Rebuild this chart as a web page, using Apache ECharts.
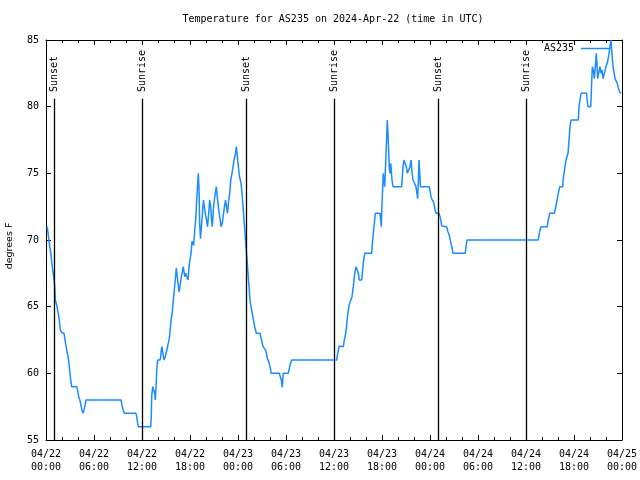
<!DOCTYPE html>
<html><head><meta charset="utf-8">
<script src="https://cdn.jsdelivr.net/npm/echarts@6/dist/echarts.min.js"></script>
<style>html,body{margin:0;padding:0;background:#fff}#c{width:640px;height:480px}</style>
</head><body><div id="c"></div>
<script>
// hours since 2024-04-22 00:00 UTC, temperature in degrees F
const day1Readings = [[0.13,71.0],[0.21,70.75],[0.41,69.75],[0.59,69.05],[0.71,68.4],[0.84,67.75],[0.96,67.25],[1.09,66.5],[1.16,65.5],[1.34,65.1],[1.54,64.5],[1.66,64.0],[1.79,63.25],[1.96,63.05],[2.25,63.0],[2.41,62.4],[2.59,61.75],[2.79,61.15],[2.91,60.5],[3.09,59.5],[3.21,59.0],[3.84,59.0],[3.96,58.7],[4.09,58.25],[4.25,57.95],[4.38,57.6],[4.5,57.2],[4.63,57.0],[4.75,57.25],[4.88,57.6],[5.0,58.0],[9.38,58.0],[9.5,57.6],[9.66,57.25],[9.79,57.0],[11.25,57.0],[11.34,56.75],[11.46,56.25],[11.54,56.0],[13.09,56.0],[13.16,56.75],[13.21,58.25],[13.34,59.0],[13.5,59.0],[13.59,58.5],[13.66,58.0],[13.75,58.9],[13.84,60.25],[13.96,61.0],[14.25,61.0],[14.34,61.25],[14.41,61.75],[14.5,62.0],[14.59,61.6],[14.75,61.0],[14.91,61.25],[15.0,61.5],[15.16,61.9],[15.29,62.05],[15.41,62.6],[15.54,63.4],[15.66,64.1],[15.79,64.6],[15.91,65.5],[16.04,66.25],[16.16,67.0],[16.29,67.9],[16.41,68.0],[16.63,66.1],[16.75,66.5],[16.91,67.25],[17.04,67.6],[17.16,68.0],[17.34,67.25],[17.46,67.5],[17.59,67.25],[17.75,67.0],[17.88,68.0],[18.0,68.5],[18.13,69.0],[18.25,69.9],[18.38,70.0],[18.46,69.6],[18.59,70.75],[18.71,71.5],[18.84,73.0],[18.96,74.25],[19.04,75.0],[19.13,73.75],[19.21,71.25],[19.31,70.1],[19.44,70.1],[19.59,72.25],[19.69,73.0],[19.79,72.5],[19.91,72.0],[20.06,71.5],[20.19,71.0],[20.34,72.0],[20.46,73.0],[20.59,72.5],[20.69,71.5],[20.79,71.0],[20.91,72.25],[21.04,73.0],[21.16,73.5],[21.29,74.0],[21.41,73.25],[21.59,72.25],[21.71,71.75],[21.88,71.0],[22.04,71.25],[22.19,72.0],[22.31,72.5],[22.44,73.0],[22.56,72.5],[22.69,72.0],[22.84,73.0],[22.96,73.5],[23.09,74.5],[23.25,75.0],[23.38,75.5],[23.5,76.0],[23.69,76.5],[23.79,77.0],[23.88,76.5],[24.0,75.75]];
const day2Readings = [[24.19,74.75],[24.38,74.25],[24.5,73.5],[24.63,72.5],[24.75,71.5],[24.88,70.5],[25.0,69.5],[25.13,68.5],[25.25,67.5],[25.38,66.5],[25.5,65.5],[25.63,65.0],[25.75,64.6],[25.88,64.2],[26.0,63.75],[26.13,63.4],[26.29,63.0],[26.75,63.0],[26.94,62.5],[27.13,62.0],[27.38,62.0],[27.5,61.7],[27.66,61.1],[27.84,60.9],[28.0,60.5],[28.16,60.0],[29.16,60.0],[29.29,59.75],[29.41,59.5],[29.54,58.95],[29.66,60.0],[30.29,60.0],[30.5,60.6],[30.71,61.0],[36.34,61.0],[36.46,61.5],[36.66,62.05],[37.16,62.0],[37.29,62.5],[37.46,63.0],[37.59,63.6],[37.66,64.15],[37.88,65.1],[38.09,65.25],[38.25,65.75],[38.41,66.5],[38.59,67.5],[38.75,68.0],[38.96,68.0],[39.04,67.5],[39.16,67.0],[39.46,67.0],[39.54,67.5],[39.66,68.25],[39.84,69.0],[40.71,69.0],[40.79,69.75],[40.91,70.5],[41.04,71.25],[41.16,72.0],[41.75,72.0],[41.84,71.5],[41.91,71.0],[42.0,72.75],[42.09,74.0],[42.16,75.0],[42.25,74.5],[42.34,74.0],[42.41,75.0],[42.5,76.5],[42.59,77.75],[42.66,79.0],[42.75,78.0],[42.84,76.5],[42.91,75.5],[43.0,75.0],[43.09,75.75],[43.16,75.25],[43.25,74.5],[43.38,74.0],[44.46,74.0],[44.54,74.75],[44.63,75.5],[44.75,76.0],[44.96,76.0],[45.04,75.5],[45.16,75.0],[45.41,75.0],[45.5,75.5],[45.63,76.0],[45.75,75.1],[45.88,74.5],[46.04,74.5],[46.25,74.0],[46.34,73.6],[46.46,73.1],[46.55,74.5],[46.63,76.0],[46.71,75.0],[46.81,74.0],[47.91,74.0]];
const day3Readings = [[48.0,73.7],[48.13,73.25],[48.25,73.05],[48.38,73.0],[48.5,72.75],[48.63,72.3],[48.75,72.0],[49.13,72.0],[49.25,71.75],[49.38,71.4],[49.46,71.05],[50.09,71.0],[50.16,70.9],[50.25,70.6],[50.38,70.4],[50.5,70.1],[50.63,69.75],[50.75,69.4],[50.88,69.0],[52.41,69.0],[52.5,69.5],[52.63,70.0],[61.54,70.0],[61.63,70.4],[61.75,70.75],[61.88,71.0],[62.66,71.0],[62.75,71.4],[62.88,71.75],[62.96,72.0],[63.54,72.0],[63.63,72.25],[63.75,72.6],[63.88,73.0],[64.0,73.4],[64.13,73.75],[64.21,74.0],[64.59,74.0],[64.63,74.5],[64.75,75.0],[64.88,75.5],[65.0,76.0],[65.21,76.0],[65.25,76.5],[65.38,77.5],[65.5,78.5],[65.63,79.0],[66.54,79.0],[66.63,80.0],[66.75,80.5],[66.88,81.0],[67.59,81.0],[67.63,80.5],[67.75,80.0],[68.09,80.0],[68.19,81.5],[68.29,83.0],[68.41,82.75],[68.54,82.1],[68.66,83.0],[68.79,84.0],[68.88,83.0],[68.96,82.1],[69.13,82.1],[69.16,82.75],[69.25,83.0],[69.38,82.5],[69.5,82.75],[69.63,82.1],[69.88,82.1],[70.0,83.0],[70.21,83.4],[70.38,84.0],[70.5,84.5],[70.63,85.0],[70.75,83.9],[70.88,83.0],[71.0,82.6],[71.13,82.1],[71.25,82.0],[71.41,81.75],[71.54,81.4],[71.71,81.1],[71.88,81.0]];

const sunHours = [1.04, 12.04, 25.08, 36.04, 49.04, 60.04];
const sunNames = ['Sunset', 'Sunrise', 'Sunset', 'Sunrise', 'Sunset', 'Sunrise'];
const xTickLabels = ['04/22\n00:00','04/22\n06:00','04/22\n12:00','04/22\n18:00','04/23\n00:00','04/23\n06:00','04/23\n12:00','04/23\n18:00','04/24\n00:00','04/24\n06:00','04/24\n12:00','04/24\n18:00','04/25\n00:00'];
const seriesName = 'AS235';
const titleText = 'Temperature for AS235 on 2024-Apr-22 (time in UTC)';
const yName = 'degrees F';

const FONT = 'DejaVu Sans Mono';
const BLUE = '#1a8cff';
const readings = day1Readings.concat(day2Readings, day3Readings);

const chart = echarts.init(document.getElementById('c'));
const axCommon = {
  axisLine: {show: true, onZero: false, lineStyle: {color: '#000', width: 1}},
  axisTick: {show: true, inside: true, length: 5, lineStyle: {color: '#000'}},
  splitLine: {show: false}
};
chart.setOption({
  animation: false,
  backgroundColor: '#fff',
  title: {text: titleText, left: 333, top: 14, textAlign: 'center', padding: 0,
    textStyle: {fontFamily: FONT, fontSize: 10, fontWeight: 'normal', color: '#000'}},
  legend: {data: [{name: seriesName, icon: 'rect'}], right: 30, top: 43.5, align: 'right', itemWidth: 29, itemHeight: 1.5, itemGap: 5, padding: 0,
    textStyle: {fontFamily: FONT, fontSize: 10, color: '#000', padding: [0, 2, 0, 0]}},
  grid: {left: 46, right: 18, top: 40, bottom: 40, containLabel: false, outerBoundsMode: 'none'},
  xAxis: [
    Object.assign({type: 'value', min: 0, max: 72, interval: 6,
      minorTick: {show: true, splitNumber: 3, length: 3, lineStyle: {color: '#000'}},
      axisLabel: {formatter: v => xTickLabels[Math.round(v / 6)], fontFamily: FONT, fontSize: 10, color: '#000', lineHeight: 13, margin: 8}}, axCommon),
    Object.assign({type: 'value', position: 'top', min: 0, max: 72, interval: 6,
      minorTick: {show: true, splitNumber: 3, length: 3, lineStyle: {color: '#000'}},
      axisLabel: {show: false}}, axCommon)
  ],
  yAxis: [
    Object.assign({type: 'value', min: 55, max: 85, interval: 5, name: yName, nameLocation: 'middle', nameGap: 31,
      nameTextStyle: {fontFamily: 'DejaVu Sans', fontSize: 9.5, color: '#000', padding: [0, 12, 0, 0]},
      axisLabel: {fontFamily: FONT, fontSize: 10, color: '#000', margin: 7}}, axCommon),
    Object.assign({type: 'value', position: 'right', min: 55, max: 85, interval: 5, axisLabel: {show: false}}, axCommon)
  ],
  series: [
    {name: seriesName, type: 'line', data: readings, symbol: 'none', showSymbol: false,
      lineStyle: {color: BLUE, width: 1.5}, itemStyle: {color: BLUE},
      markLine: {silent: true, symbol: ['none', 'none'], label: {show: false},
        lineStyle: {color: '#000', width: 1.3, type: 'solid', opacity: 1},
        emphasis: {disabled: true},
        data: sunHours.map(h => [{coord: [h, 55]}, {coord: [h, 80.6]}])}},
    {name: 'sun', type: 'scatter', data: sunHours.map((h, i) => [h, 81.1, sunNames[i]]), symbolSize: 1,
      itemStyle: {color: '#fff', opacity: 1}, silent: true,
      label: {show: true, formatter: p => p.data[2], rotate: 90, position: 'inside', align: 'left', verticalAlign: 'middle',
        fontFamily: FONT, fontSize: 10, color: '#000', opacity: 1}}
  ]
});
</script></body></html>
